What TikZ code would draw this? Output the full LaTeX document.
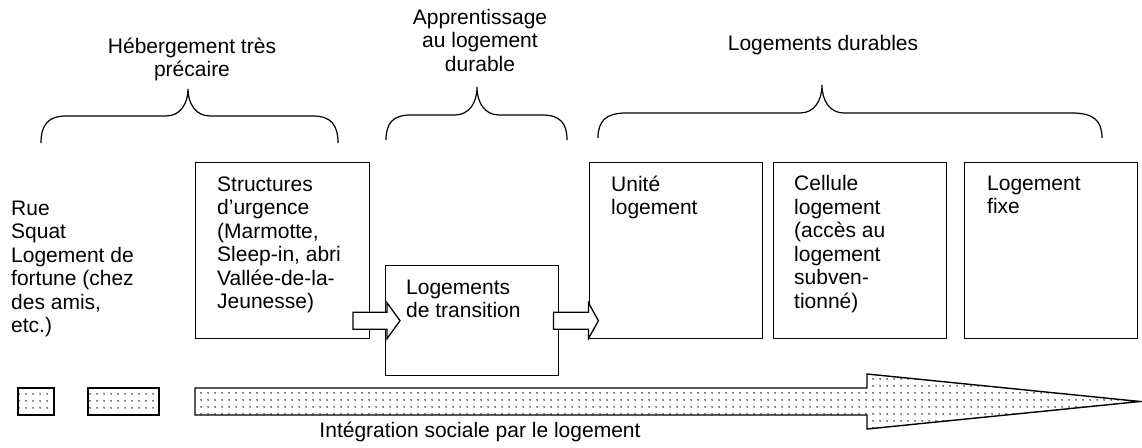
\documentclass[tikz,border=0pt]{standalone}
\usepackage{fontspec}
\setmainfont{Liberation Sans}
\usetikzlibrary{positioning,calc,patterns.meta}

\begin{document}
\begin{tikzpicture}[x=1pt,y=-1pt,
    boite/.style={draw,line width=1.4pt,inner sep=0pt,minimum width=173pt,minimum height=176pt,anchor=north west},
    texte/.style={font=\fontsize{21}{23.5}\selectfont,align=left,inner sep=0pt,anchor=north west},
    titre/.style={font=\fontsize{21}{23.5}\selectfont,align=center,inner sep=0pt},
    accolade/.style={line width=1.2pt},
    fleche/.style={draw,line width=1.3pt,fill=white},
    pointille/.style={draw,line width=1.4pt,pattern={Dots[distance=6.5pt,radius=0.85pt]}}]

    \useasboundingbox (0,0) rectangle (1142,447);

    % 上方的三个括号与标题
    \node[titre,anchor=north] (precaire) at (192,37.5) {Hébergement très\\précaire};
    \node[titre,anchor=north] (apprentissage) at (480,9) {Apprentissage\\au logement\\durable};
    \node[titre,anchor=base] (durables) at (823,50) {Logements durables};
    \draw[accolade] (41,143) .. controls (41,125) and (48,116) .. (66,116) -- (166,116) .. controls (180,116) and (188,104) .. (188,89) .. controls (188,104) and (196,116) .. (210,116) -- (313,116) .. controls (331,116) and (338,125) .. (338,143); % 第一个括号
    \draw[accolade] (386,140) .. controls (386,123) and (393,115) .. (411,115) -- (455,115) .. controls (469,115) and (477,103) .. (477,87) .. controls (477,103) and (485,115) .. (499,115) -- (542,115) .. controls (560,115) and (567,123) .. (567,140); % 第二个括号
    \draw[accolade] (598,138) .. controls (598,121) and (606,113) .. (626,113) -- (800,113) .. controls (814,113) and (822,101) .. (822,85) .. controls (822,101) and (830,113) .. (844,113) -- (1072,113) .. controls (1094,113) and (1102,121) .. (1102,138); % 第三个括号

    % 左侧文字
    \node[texte] (rue) at (11,200.5) {Rue\\Squat\\Logement de\\fortune (chez\\des amis,\\etc.)};

    % 方框
    \node[boite,minimum width=174pt] (urgence) at (195,162) {};
    \node[boite,minimum height=110pt] (transition) at (385,265) {};
    \node[boite] (unite) at (589,162) {};
    \node[boite] (cellule) at (773,162) {};
    \node[boite] (fixe) at (964,162) {};

    % 方框里的文字
    \node[texte,below right=14.5pt and 22pt of urgence.north west] (urgence-txt) {Structures\\d’urgence\\(Marmotte,\\Sleep-in, abri\\Vallée-de-la-\\Jeunesse)};
    \node[texte,below right=14.5pt and 21pt of transition.north west] (transition-txt) {Logements\\de transition};
    \node[texte,below right=13.5pt and 22pt of unite.north west] (unite-txt) {Unité\\logement};
    \node[texte,below right=13.5pt and 21pt of cellule.north west] (cellule-txt) {Cellule\\logement\\(accès au\\logement\\subven-\\tionné)};
    \node[texte,below right=13.5pt and 23pt of fixe.north west] (fixe-txt) {Logement\\fixe};

    % 空心箭头
    \coordinate (f1) at ($(transition.west)+(-32,0)$);
    \coordinate (f2) at ($(transition.east)+(-6,0)$);
    \draw[fleche] (f1) +(0,-8.5) -- +(34,-8.5) -- +(34,-18) -- +(47,0) -- +(34,18) -- +(34,8.5) -- +(0,8.5) -- cycle;
    \draw[fleche] (f2) +(0,-8.5) -- +(35,-8.5) -- +(35,-18) -- +(45,0) -- +(35,18) -- +(35,8.5) -- +(0,8.5) -- cycle;

    % 下方的点状长箭头
    \draw[pointille] (18,388) rectangle (54,415);
    \draw[pointille] (88,388) rectangle (159,415);
    \draw[pointille] (195,388) -- (867,388) -- (867,374) -- (1140,401.5) -- (867,429) -- (867,415) -- (195,415) -- cycle;
    \node[titre,anchor=base] (integration) at (480,437) {Intégration sociale par le logement};

\end{tikzpicture}
\end{document}
